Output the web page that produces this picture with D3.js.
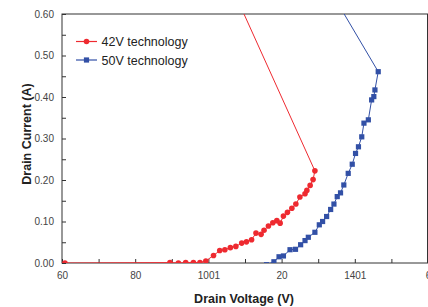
<!DOCTYPE html>
<html>
<head>
<meta charset="utf-8">
<script src="https://cdn.jsdelivr.net/npm/d3@7"></script>
<style>
  body { margin: 0; background: #fff; }
  text { font-family: "Liberation Sans", Arial, sans-serif; }
</style>
</head>
<body>
<script>
// 42V technology (drain voltage V, drain current A)
var redVolt = [60.8, 89.5, 91.8, 93.8, 95.9, 97.7, 99.3, 101.4, 103.1, 104.5, 106.0, 107.5, 109.1, 110.4, 111.8, 113.0, 114.4, 115.2, 116.4, 117.6, 118.7, 119.6, 120.5, 121.6, 122.8, 123.9, 125.0, 126.4, 126.9, 127.8, 128.6, 129.1, 104.6];
var redCurr = [0.000, 0.001, 0.000, 0.001, 0.001, 0.001, 0.005, 0.018, 0.030, 0.032, 0.037, 0.040, 0.048, 0.051, 0.056, 0.072, 0.069, 0.079, 0.089, 0.097, 0.102, 0.096, 0.113, 0.122, 0.132, 0.142, 0.159, 0.167, 0.175, 0.187, 0.201, 0.222, 0.70];

// 50V technology
var blueVolt = [115.9, 117.9, 119.3, 120.5, 122.3, 123.8, 125.2, 126.4, 127.3, 129.1, 130.3, 131.2, 132.3, 133.4, 134.3, 135.2, 136.1, 137.0, 138.2, 139.3, 140.2, 141.0, 141.9, 142.5, 143.7, 144.6, 145.2, 145.5, 146.4, 130.4];
var blueCurr = [-0.004, 0.003, 0.015, 0.017, 0.032, 0.033, 0.044, 0.054, 0.062, 0.074, 0.092, 0.100, 0.112, 0.129, 0.142, 0.160, 0.169, 0.188, 0.216, 0.238, 0.264, 0.280, 0.304, 0.337, 0.345, 0.393, 0.401, 0.417, 0.461, 0.70];

var xTickVals = [60, 80, 100, 120, 140, 160];
var xTickLabels = ["60", "80", "1001", "20", "1401", "6"];
var yTickVals = [0, 0.1, 0.2, 0.3, 0.4, 0.5, 0.6];
var seriesNames = ["42V technology", "50V technology"];

var width = 428, height = 307;
var margen = { arriba: 14, abajo: 44, izquierda: 62, derecha: 0 };
var rojo = "#ee2a30", azul = "#3250a6";

var escalaX = d3.scaleLinear().domain([60, 160]).range([margen.izquierda, width - margen.derecha]);
var escalaY = d3.scaleLinear().domain([0, 0.6]).range([height - margen.abajo, margen.arriba]);

var svg = d3.select("body").append("svg")
    .attr("width", width)
    .attr("height", height);

svg.append("clipPath").attr("id", "zona")
  .append("rect")
    .attr("x", margen.izquierda)
    .attr("y", margen.arriba)
    .attr("width", width - margen.derecha - margen.izquierda)
    .attr("height", height - margen.abajo - margen.arriba);

// axes with inner ticks
var ejeX = d3.axisBottom(escalaX)
    .tickValues(d3.range(60, 161, 10))
    .tickSizeInner(-4).tickSizeOuter(0)
    .tickFormat(function (d) { var i = xTickVals.indexOf(d); return i < 0 ? "" : xTickLabels[i]; });
var gX = svg.append("g")
    .attr("transform", "translate(0," + escalaY(0) + ")")
    .call(ejeX);
gX.selectAll("text").attr("y", 9).attr("dy", "0.71em");

var ejeY = d3.axisLeft(escalaY)
    .tickValues(d3.range(0, 0.601, 0.05))
    .tickSizeInner(-4).tickSizeOuter(0)
    .tickFormat(function (d) {
      var r = Math.round(d * 100) / 100;
      return yTickVals.some(function (v) { return Math.abs(v - r) < 1e-6; }) ? d3.format(".2f")(r) : "";
    });
var gY = svg.append("g")
    .attr("transform", "translate(" + escalaX(60) + ",0)")
    .call(ejeY);
gY.selectAll("text").attr("x", -8);

svg.selectAll(".tick text").style("font-size", "10px").attr("fill", "#444");
svg.selectAll(".tick line").attr("stroke", "#333");
svg.selectAll(".domain").remove();

// frame
svg.append("rect")
    .attr("x", escalaX(60))
    .attr("y", escalaY(0.6))
    .attr("width", escalaX(160) - escalaX(60) - 0.5)
    .attr("height", escalaY(0) - escalaY(0.6))
    .attr("fill", "none")
    .attr("stroke", "#333")
    .attr("stroke-width", 1);

var linea = d3.line()
    .x(function (d) { return escalaX(d[0]); })
    .y(function (d) { return escalaY(d[1]); });

var datosRojo = redVolt.map(function (v, i) { return [v, redCurr[i]]; });
var datosAzul = blueVolt.map(function (v, i) { return [v, blueCurr[i]]; });

var zona = svg.append("g").attr("clip-path", "url(#zona)");

zona.append("path").datum(datosAzul)
    .attr("d", linea).attr("fill", "none").attr("stroke", azul).attr("stroke-width", 1);
zona.selectAll(".sq").data(datosAzul).join("rect")
    .attr("class", "sq")
    .attr("x", function (d) { return escalaX(d[0]) - 2.6; })
    .attr("y", function (d) { return escalaY(d[1]) - 2.6; })
    .attr("width", 5.2).attr("height", 5.2)
    .attr("fill", azul);

zona.append("path").datum(datosRojo)
    .attr("d", linea).attr("fill", "none").attr("stroke", rojo).attr("stroke-width", 1);
zona.selectAll(".pt").data(datosRojo).join("circle")
    .attr("class", "pt")
    .attr("cx", function (d) { return escalaX(d[0]); })
    .attr("cy", function (d) { return escalaY(d[1]); })
    .attr("r", 2.8)
    .attr("fill", rojo);

// legend
var leyenda = svg.append("g");
seriesNames.forEach(function (nombre, i) {
  var y = 41.5 + i * 18.5;
  var color = i === 0 ? rojo : azul;
  leyenda.append("line").attr("x1", 76).attr("x2", 97).attr("y1", y).attr("y2", y)
      .attr("stroke", color).attr("stroke-width", 1.2);
  if (i === 0) {
    leyenda.append("circle").attr("cx", 86.5).attr("cy", y).attr("r", 2.8).attr("fill", color);
  } else {
    leyenda.append("rect").attr("x", 86.5 - 2.6).attr("y", y - 2.6).attr("width", 5.2).attr("height", 5.2).attr("fill", color);
  }
  leyenda.append("text").attr("x", 101.5).attr("y", y).attr("dy", "0.36em")
      .style("font-size", "12.5px").attr("fill", "#222").text(nombre);
});

// axis titles
svg.append("text")
    .attr("x", 244).attr("y", 303)
    .attr("text-anchor", "middle")
    .style("font-size", "12.5px").style("font-weight", "bold").attr("fill", "#222")
    .text("Drain Voltage (V)");

svg.append("text")
    .attr("transform", "translate(31,134) rotate(-90)")
    .attr("text-anchor", "middle")
    .style("font-size", "12.5px").style("font-weight", "bold").attr("fill", "#222")
    .text("Drain Current (A)");
</script>
</body>
</html>
